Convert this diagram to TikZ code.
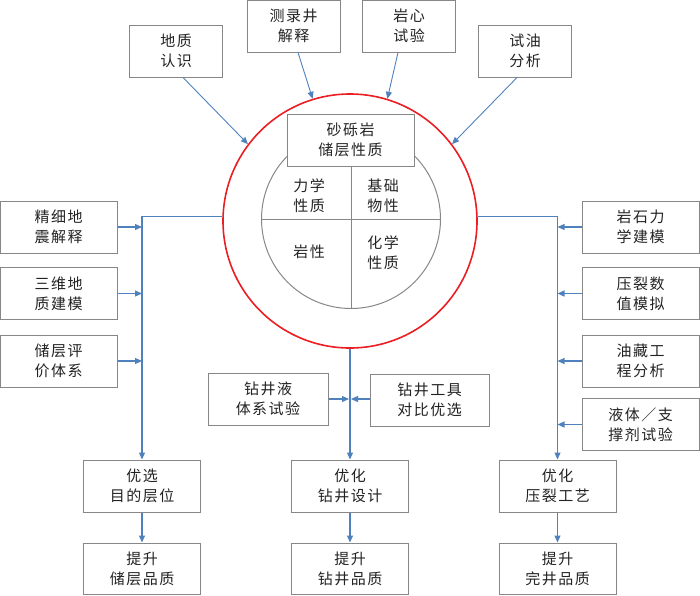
\documentclass[tikz,border=0pt]{standalone}
\usepackage{fontspec}
\setmainfont{Noto Sans CJK SC}[LetterSpace=10]
\usetikzlibrary{arrows.meta,calc}
\definecolor{arrblue}{RGB}{79,129,189}
\definecolor{boxgray}{RGB}{135,135,135}
\definecolor{ringred}{RGB}{235,30,35}
\definecolor{txt}{RGB}{35,35,35}
\tikzset{
  box/.style={draw=boxgray,line width=1pt,fill=white,text=txt,align=center,inner sep=0pt,
    minimum width=117pt,minimum height=52pt,font=\fontsize{15}{20}\selectfont},
  topbox/.style={box,minimum width=93pt},
  lbl/.style={text=txt,align=center,inner sep=0pt,font=\fontsize{15}{20}\selectfont},
  arr/.style={draw=arrblue,line width=1.1pt,-{Triangle[length=7pt,width=6pt]}},
  thinarr/.style={draw=arrblue,line width=0.9pt,-{Triangle[length=7pt,width=6pt]}},
}
\begin{document}
\begin{tikzpicture}[x=1pt,y=-1pt]
\useasboundingbox (0,0) rectangle (700,595);
% rings
\node[circle,draw=ringred,line width=1.6pt,minimum size=254pt,inner sep=0pt] (outer) at (350,221) {};
\node[circle,draw=boxgray,line width=1pt,minimum size=179pt,inner sep=0pt] (inner) at (351,219) {};
\draw[boxgray,line width=1pt] (inner.west) -- (inner.east);
\node[box,minimum width=127pt] (main) at (350.5,140) {砂砾岩\\储层性质};
\draw[boxgray,line width=1pt] (main.south -| inner.south) -- (inner.south);
\node[lbl] (q1) at (309,195.5) {力学\\性质};
\node[lbl] (q2) at (383,195.5) {基础\\物性};
\node[lbl] (q3) at (309,252) {岩性};
\node[lbl] (q4) at (383,252.5) {化学\\性质};
% top boxes
\node[topbox] (geo) at (176,51) {地质\\认识};
\node[topbox] (logg) at (293.5,26) {测录井\\解释};
\node[topbox] (core) at (409,26) {岩心\\试验};
\node[topbox] (oil) at (525,51) {试油\\分析};
\draw[thinarr] ([xshift=7pt]geo.south) -- (outer.143);
\draw[thinarr] ([xshift=4.5pt]logg.south) -- (outer.107);
\draw[thinarr] ([xshift=-11pt]core.south) -- (outer.73);
\draw[thinarr] ([xshift=-8pt]oil.south) -- (outer.37);
% left boxes
\node[box] (l1) at (58.5,227) {精细地\\震解释};
\node[box] (l2) at (58.5,293.5) {三维地\\质建模};
\node[box] (l3) at (58.5,361) {储层评\\价体系};
% right boxes
\node[box] (r1) at (640.5,227) {岩石力\\学建模};
\node[box] (r2) at (640.5,293.5) {压裂数\\值模拟};
\node[box] (r3) at (640.5,361) {油藏工\\程分析};
\node[box] (r4) at (640.5,424.5) {液体／支\\撑剂试验};
% middle boxes
\node[box,minimum width=120pt] (ml) at (268,399) {钻井液\\体系试验};
\node[box,minimum width=119pt] (mr) at (429.5,400) {钻井工具\\对比优选};
% bottom boxes
\node[box] (o1) at (142,486) {优选\\目的层位};
\node[box] (o2) at (350,486) {优化\\钻井设计};
\node[box] (o3) at (557.5,486) {优化\\压裂工艺};
\node[box,minimum height=51pt] (i1) at (142,568.5) {提升\\储层品质};
\node[box,minimum height=51pt] (i2) at (350,568.5) {提升\\钻井品质};
\node[box,minimum height=51pt] (i3) at (557.5,568.5) {提升\\完井品质};
% buses
\draw[arr] (outer.178) -| (o1.north);
\draw[arr] (outer.2) -| (o3.north);
\draw[arr] (outer.south) -- (o2.north);
\foreach \n in {l1,l2,l3} \draw[arr] (\n.east) -- (\n.east -| o1.north);
\foreach \n in {r1,r2,r3,r4} \draw[arr] (\n.west) -- (\n.west -| o3.north);
\draw[arr] (ml.east) -- ([xshift=-1pt]ml.east -| o2.north);
\draw[arr] (mr.west |- ml.east) -- ([xshift=1pt]ml.east -| o2.north);
\draw[arr] (o1.south) -- (i1.north);
\draw[arr] (o2.south) -- (i2.north);
\draw[arr] (o3.south) -- (i3.north);
\end{tikzpicture}
\end{document}
